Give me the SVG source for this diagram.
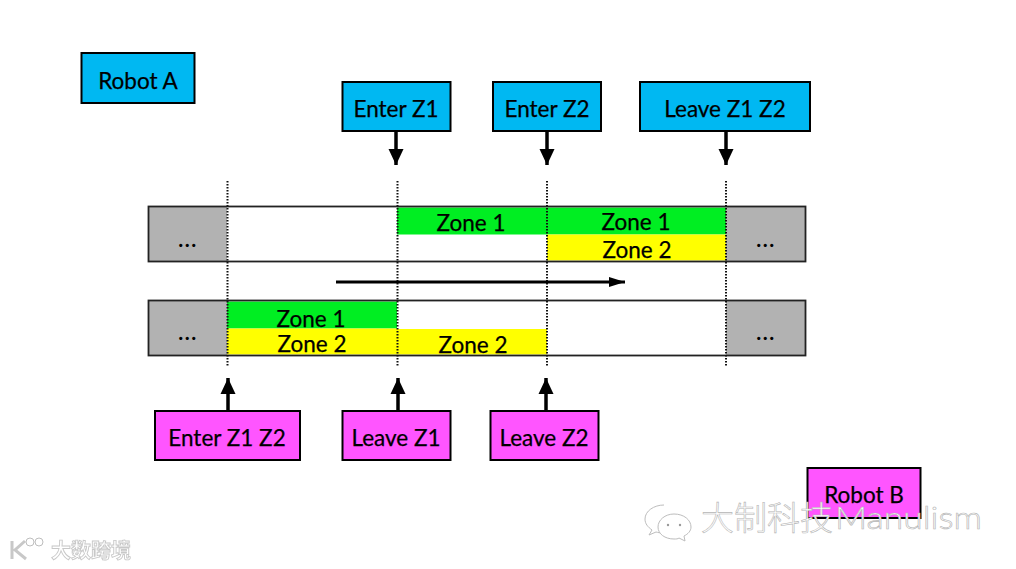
<svg xmlns="http://www.w3.org/2000/svg" width="1016" height="569" viewBox="0 0 1016 569">
<style>
text{font-family:"Lato","Noto Sans CJK SC",sans-serif;fill:#000;text-anchor:middle}
.lb,.z{font-size:22.500px;stroke:#000;stroke-width:.25}
.d{font-size:21px;font-weight:700;letter-spacing:1.500px}
.box{stroke:#000;stroke-width:2}
.a{fill:#00b8f2}
.b{fill:#ff55ff}
.bar{fill:none;stroke:#222;stroke-width:1.800}
.g{fill:#b2b2b2}
.gr{fill:#00ee22}
.y{fill:#ffff00}
.dot{stroke:#111;stroke-width:2;stroke-dasharray:1.500 1.500;fill:none}
.arr{stroke:#000;stroke-width:3.500;fill:none}
.arh{stroke:#000;stroke-width:2.800;fill:none}
.wm{fill:#fff;stroke:#b5b5b5;stroke-width:.6;font-weight:300}
.wi{fill:#fff;stroke:#bdbdbd;stroke-width:1}
.wm2{fill:#fff;stroke:#c8c8c8;stroke-width:.9;font-size:20px;font-weight:700}
</style>
<defs>
<marker id="ah" markerUnits="userSpaceOnUse" markerWidth="18" markerHeight="18" refX="16" refY="9" orient="auto"><path d="M0 1.500L16 9L0 16.500Z" fill="#000"/></marker>
<marker id="ah2" markerUnits="userSpaceOnUse" markerWidth="18" markerHeight="18" refX="16" refY="9" orient="auto"><path d="M0 4L16 9L0 14Z" fill="#000"/></marker>
<filter id="soft" x="-10%" y="-10%" width="120%" height="120%"><feGaussianBlur stdDeviation=".6"/></filter>
</defs>
<rect width="1016" height="569" fill="#fff"/>
<g id="robot-a"><rect class="box a" x="81.500" y="53" width="113" height="50"/><text class="lb" x="138" y="89">Robot A</text></g>
<g id="enter-z1"><rect class="box a" x="342.500" y="82" width="108" height="49"/><text class="lb" x="396" y="117">Enter Z1</text></g>
<g id="enter-z2"><rect class="box a" x="493" y="82" width="108" height="49"/><text class="lb" x="547" y="117">Enter Z2</text></g>
<g id="leave-z1-z2"><rect class="box a" x="640" y="82" width="170" height="49"/><text class="lb" x="725" y="117">Leave Z1 Z2</text></g>
<g id="track-a">
<rect class="g" x="149" y="207" width="78" height="54"/>
<rect class="g" x="726" y="207" width="79" height="54"/>
<rect class="gr" x="397" y="207.500" width="329" height="27"/>
<rect class="y" x="547" y="234.500" width="179" height="26"/>
<rect class="bar" x="148.500" y="206.500" width="657" height="55"/>
<text class="d" x="188" y="247">...</text>
<text class="d" x="766" y="247">...</text>
<text class="z" x="471" y="231">Zone 1</text>
<text class="z" x="636" y="230">Zone 1</text>
<text class="z" x="637" y="258">Zone 2</text>
</g>
<g id="track-b">
<rect class="g" x="149" y="301" width="78" height="54"/>
<rect class="g" x="726" y="301" width="79" height="54"/>
<rect class="gr" x="227" y="301.500" width="170" height="27"/>
<rect class="y" x="227" y="328.500" width="170" height="26"/>
<rect class="y" x="397" y="329" width="150" height="25.500"/>
<rect class="bar" x="148.500" y="300.500" width="657" height="55"/>
<text class="d" x="188" y="340">...</text>
<text class="d" x="766" y="340">...</text>
<text class="z" x="311" y="327">Zone 1</text>
<text class="z" x="312" y="352">Zone 2</text>
<text class="z" x="473" y="353">Zone 2</text>
</g>
<g id="enter-z1-z2"><rect class="box b" x="155" y="411" width="145" height="49"/><text class="lb" x="227" y="446">Enter Z1 Z2</text></g>
<g id="leave-z1"><rect class="box b" x="342.500" y="411" width="108" height="49"/><text class="lb" x="396" y="446">Leave Z1</text></g>
<g id="leave-z2"><rect class="box b" x="490.500" y="411" width="108" height="49"/><text class="lb" x="544" y="446">Leave Z2</text></g>
<g id="robot-b"><rect class="box b" x="807.500" y="468" width="113" height="50"/><text class="lb" x="864" y="503">Robot B</text></g>
<g id="connectors">
<path class="dot" d="M227.500 181V367M397.500 181V367M547 181V367M726 181V367"/>
<path class="arr" marker-end="url(#ah)" d="M396 131V165"/>
<path class="arr" marker-end="url(#ah)" d="M547 131V165"/>
<path class="arr" marker-end="url(#ah)" d="M726 131V165"/>
<path class="arr" marker-end="url(#ah)" d="M228 411V378"/>
<path class="arr" marker-end="url(#ah)" d="M398 411V378"/>
<path class="arr" marker-end="url(#ah)" d="M546 411V378"/>
<path class="arh" marker-end="url(#ah2)" d="M336 282H625"/>
</g>
<g id="watermark-a">
<path class="wi" d="M664 505c-10 0-19 6-19 14 0 5 3 8 7 11l-3 5 7-3c2 .5 4 1 7 1"/>
<path class="wi" d="M674 514c-9 0-16 6-16 13s7 12 16 12c2 0 4 0 5-1l6 3-1-5c4-2 7-5 7-9 0-7-7-13-17-13z"/>
<circle cx="668" cy="525" r="1.200" fill="#999"/><circle cx="680" cy="525" r="1.200" fill="#999"/>
<text class="wm" x="767" y="530" style="font-size:33px">大制科技</text>
<text class="wm" x="908.500" y="529" textLength="147" lengthAdjust="spacingAndGlyphs" style="font-size:31px">Manulism</text>
</g>
<g id="watermark-b" filter="url(#soft)">
<path fill="none" stroke="#c8c8c8" stroke-width="3" d="M12 541V559M25 541L15 550L26 559"/>
<circle class="wi" cx="30" cy="542" r="4"/><circle class="wi" cx="39" cy="542" r="4"/>
<text class="wm2" x="91" y="558">大数跨境</text>
</g>
</svg>
